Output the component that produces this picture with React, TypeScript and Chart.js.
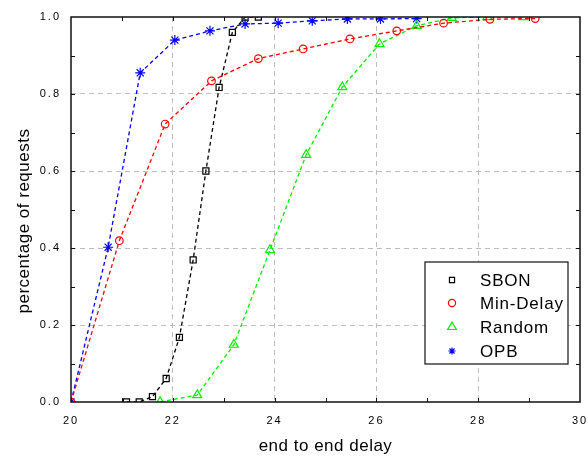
import React, { useEffect, useRef } from 'react';
import { Chart, registerables } from 'chart.js';

Chart.register(...registerables);

// ---- data ----
const SBON_X = [21.09, 21.34, 21.6, 21.87, 22.13, 22.4, 22.65, 22.91, 23.17, 23.42, 23.68];
const SBON_Y = [0.0, 0.0, 0.014, 0.061, 0.168, 0.369, 0.6, 0.817, 0.96, 1.0, 1.0];

const MIN_DELAY_X = [20.0, 20.95, 21.85, 22.76, 23.68, 24.56, 25.48, 26.4, 27.32, 28.23, 29.12];
const MIN_DELAY_Y = [0.0, 0.419, 0.722, 0.834, 0.892, 0.917, 0.943, 0.964, 0.984, 0.994, 0.996];

const RANDOM_X = [21.75, 22.48, 23.2, 23.91, 24.62, 25.33, 26.06, 26.79, 27.48, 28.18, 28.89];
const RANDOM_Y = [0.0, 0.018, 0.149, 0.395, 0.642, 0.818, 0.93, 0.977, 0.998, 1.0, 1.0];

const OPB_X = [20.0, 20.73, 21.36, 22.04, 22.73, 23.42, 24.07, 24.74, 25.43, 26.08, 26.79];
const OPB_Y = [0.0, 0.402, 0.855, 0.94, 0.964, 0.982, 0.984, 0.99, 0.995, 0.995, 0.996];

const SERIES_NAMES = ['SBON', 'Min-Delay', 'Random', 'OPB'];
const SERIES_COLORS = ['#000000', '#ff0000', '#00ee00', '#0000ff'];
const SERIES_MARKERS = ['rect', 'circle', 'triangle', 'star'];

const X_MIN = 20;
const X_MAX = 30;
const X_LABEL_STEP = 2;
const X_MINOR_STEP = 1;
const Y_MIN = 0;
const Y_MAX = 1;
const Y_LABEL_STEP = 0.2;
const Y_MINOR_STEP = 0.1;

const X_TITLE = 'end to end delay';
const Y_TITLE = 'percentage of requests';

const FONT = "'Liberation Sans', Arial, sans-serif";

const toPoints = (xs: number[], ys: number[]) => xs.map((x, i) => ({ x, y: ys[i] }));

function drawMarker(ctx: CanvasRenderingContext2D, style: string, x: number, y: number, r: number) {
  ctx.beginPath();
  if (style === 'rect') {
    const s = Math.SQRT1_2 * r;
    ctx.rect(x - s, y - s, 2 * s, 2 * s);
  } else if (style === 'circle') {
    ctx.arc(x, y, r, 0, Math.PI * 2);
  } else if (style === 'triangle') {
    ctx.moveTo(x, y - r);
    ctx.lineTo(x + 0.866 * r, y + 0.5 * r);
    ctx.lineTo(x - 0.866 * r, y + 0.5 * r);
    ctx.closePath();
  } else if (style === 'star') {
    for (let k = 0; k < 4; k++) {
      const a = (k * Math.PI) / 4;
      ctx.moveTo(x + Math.cos(a) * r, y + Math.sin(a) * r);
      ctx.lineTo(x - Math.cos(a) * r, y - Math.sin(a) * r);
    }
  }
  ctx.stroke();
}

const framePlugin = {
  id: 'framePlugin',
  beforeDraw(chart: any) {
    chart.ctx.letterSpacing = '2px';
  },
  afterDraw(chart: any) {
    const ctx: CanvasRenderingContext2D = chart.ctx;
    const { left, right, top, bottom } = chart.chartArea;
    const xs = chart.scales.x;
    const ys = chart.scales.y;
    ctx.save();
    ctx.letterSpacing = '0px';
    ctx.strokeStyle = '#111';
    ctx.lineWidth = 1.5;
    ctx.setLineDash([]);
    ctx.strokeRect(left, top, right - left, bottom - top);
    ctx.lineWidth = 1;
    const tl = 4;
    ctx.beginPath();
    for (let v = X_MIN + X_MINOR_STEP; v < X_MAX - 1e-9; v += X_MINOR_STEP) {
      const px = Math.round(xs.getPixelForValue(v)) + 0.5;
      ctx.moveTo(px, bottom);
      ctx.lineTo(px, bottom - tl);
      ctx.moveTo(px, top);
      ctx.lineTo(px, top + tl);
    }
    for (let v = Y_MIN + Y_MINOR_STEP; v < Y_MAX - 1e-9; v += Y_MINOR_STEP) {
      const py = Math.round(ys.getPixelForValue(v)) + 0.5;
      ctx.moveTo(left, py);
      ctx.lineTo(left + tl, py);
      ctx.moveTo(right, py);
      ctx.lineTo(right - tl, py);
    }
    ctx.stroke();

    // axis titles
    ctx.fillStyle = '#000';
    ctx.font = `17px ${FONT}`;
    ctx.letterSpacing = '0.5px';
    ctx.textAlign = 'center';
    ctx.textBaseline = 'middle';
    ctx.fillText(X_TITLE, (left + right) / 2, 446);
    ctx.save();
    ctx.translate(24, 221);
    ctx.rotate(-Math.PI / 2);
    ctx.fillText(Y_TITLE, 0, 0);
    ctx.restore();

    // legend
    const bx = 425, by = 262, bw = 143, bh = 102;
    ctx.fillStyle = '#fff';
    ctx.fillRect(bx, by, bw, bh);
    ctx.strokeStyle = '#111';
    ctx.lineWidth = 1.2;
    ctx.strokeRect(bx, by, bw, bh);
    const rows = [280, 303, 327, 351];
    ctx.font = `17px ${FONT}`;
    ctx.letterSpacing = '0.8px';
    ctx.textAlign = 'left';
    ctx.textBaseline = 'middle';
    SERIES_NAMES.forEach((name, i) => {
      ctx.strokeStyle = SERIES_COLORS[i];
      ctx.lineWidth = 1.2;
      ctx.setLineDash([]);
      drawMarker(ctx, SERIES_MARKERS[i], 452, rows[i], SERIES_MARKERS[i] === 'triangle' ? 5 : 3.6);
      ctx.fillStyle = '#000';
      ctx.fillText(name, 480, rows[i] + 1);
    });
    ctx.restore();
  },
};

export default function App() {
  const ref = useRef<HTMLCanvasElement | null>(null);

  useEffect(() => {
    document.body.style.margin = '0';
    if (!ref.current) return;
    const seriesX = [SBON_X, MIN_DELAY_X, RANDOM_X, OPB_X];
    const seriesY = [SBON_Y, MIN_DELAY_Y, RANDOM_Y, OPB_Y];
    const radii = [4.3, 3.8, 5.2, 5];
    const datasets = SERIES_NAMES.map((name, i) => ({
      label: name,
      data: toPoints(seriesX[i], seriesY[i]),
      showLine: true,
      borderColor: SERIES_COLORS[i],
      backgroundColor: 'rgba(0,0,0,0)',
      borderWidth: 1.3,
      borderDash: [4, 3],
      pointStyle: SERIES_MARKERS[i],
      pointRadius: radii[i],
      pointBorderWidth: 1.2,
      pointBorderColor: SERIES_COLORS[i],
      pointBackgroundColor: 'rgba(0,0,0,0)',
      clip: 0,
    }));

    const gridColor = (min: number, max: number) => (c: any) => {
      const v = c.tick ? c.tick.value : null;
      if (v === null || Math.abs(v - min) < 1e-9 || Math.abs(v - max) < 1e-9) return 'rgba(0,0,0,0)';
      return '#bdbdbd';
    };

    const chart = new Chart(ref.current, {
      type: 'scatter',
      data: { datasets },
      plugins: [framePlugin],
      options: {
        animation: false,
        responsive: false,
        maintainAspectRatio: false,
        layout: { padding: { left: 0, top: 17, right: 8, bottom: 0 } },
        plugins: { legend: { display: false }, tooltip: { enabled: false } },
        scales: {
          x: {
            type: 'linear',
            min: X_MIN,
            max: X_MAX,
            ticks: {
              stepSize: X_LABEL_STEP,
              color: '#000',
              padding: 12,
              font: { family: FONT, size: 11 },
              callback: (v: any) => String(v),
            },
            grid: { color: gridColor(X_MIN, X_MAX), drawTicks: false, lineWidth: 1 },
            border: { display: false, dash: [5, 4] },
            afterFit: (s: any) => {
              s.height = 57;
              s.paddingLeft = 0;
              s.paddingRight = 0;
            },
          },
          y: {
            type: 'linear',
            min: Y_MIN,
            max: Y_MAX,
            ticks: {
              stepSize: Y_LABEL_STEP,
              color: '#000',
              padding: 10,
              font: { family: FONT, size: 11 },
              callback: (v: any) => Number(v).toFixed(1),
            },
            grid: { color: gridColor(Y_MIN, Y_MAX), drawTicks: false, lineWidth: 1 },
            border: { display: false, dash: [5, 4] },
            afterFit: (s: any) => {
              s.width = 71;
              s.paddingTop = 0;
              s.paddingBottom = 0;
            },
          },
        },
      } as any,
    });
    return () => chart.destroy();
  }, []);

  return (
    <div style={{ width: 588, height: 459, background: '#fff' }}>
      <canvas ref={ref} width={588} height={459} style={{ display: 'block' }} />
    </div>
  );
}
